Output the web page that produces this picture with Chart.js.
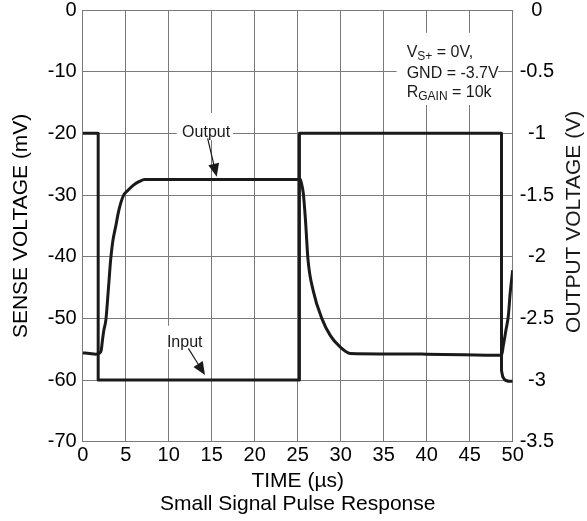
<!DOCTYPE html>
<html>
<head>
<meta charset="utf-8">
<script src="https://cdn.jsdelivr.net/npm/chart.js@4.4.1/dist/chart.umd.min.js"></script>
<style>
    html, body { margin: 0; padding: 0; background: #fff; }
    #wrap { width: 587px; height: 521px; }
</style>
</head>
<body>
<div id="wrap"><canvas id="pulseChart"></canvas></div>
<script>
// Input step, sense voltage in mV (left axis)
const inputTime = [0, 1.8, 1.8, 25.2, 25.2, 48.7, 48.7, 48.85, 49.1, 49.5, 50];
const inputMv = [-20, -20, -60, -60, -20, -20, -58.5, -59.5, -60, -60.2, -60.2];

// Amplifier output in V (right axis)
const outputTime = [0, 0.8, 1.5, 1.9, 2.15, 2.3, 2.45, 2.7, 3.0, 3.25, 3.5, 3.85, 4.2, 4.7, 5.3, 5.9, 6.6, 7.2, 15, 25.3,
    25.45, 25.65, 25.9, 26.2, 26.8, 27.8, 28.8, 29.9, 31.1, 40, 48.7, 48.9, 49.2, 49.5, 49.7, 50];
const outputV = [-2.78, -2.785, -2.79, -2.785, -2.76, -2.675, -2.6, -2.51, -2.25, -2.025, -1.875, -1.75, -1.625, -1.51, -1.46, -1.42, -1.39, -1.375, -1.375, -1.375,
    -1.41, -1.485, -1.7, -2.025, -2.275, -2.5, -2.64, -2.73, -2.785, -2.79, -2.8, -2.725, -2.6, -2.475, -2.3, -2.11];

const timeTicks = ['0', '5', '10', '15', '20', '25', '30', '35', '40', '45', '50'];
const senseTicks = ['-70', '-60', '-50', '-40', '-30', '-20', '-10', '0'];
const outputTicks = ['-3.5', '-3', '-2.5', '-2', '-1.5', '-1', '-0.5', '0'];

const FONT = "'Liberation Sans', Arial, sans-serif";
const GRID = '#7a7a7a';
const INK = '#1a1a1a';

const toPoints = (xs, ys) => xs.map((x, i) => ({ x, y: ys[i] }));

function arrow(ctx, x1, y1, x2, y2) {
    const ang = Math.atan2(y2 - y1, x2 - x1);
    const len = 13, half = 5.5;
    const bx = x2 - len * Math.cos(ang), by = y2 - len * Math.sin(ang);
    ctx.beginPath();
    ctx.moveTo(x1, y1);
    ctx.lineTo(bx, by);
    ctx.stroke();
    ctx.beginPath();
    ctx.moveTo(x2, y2);
    ctx.lineTo(bx + half * Math.sin(ang), by - half * Math.cos(ang));
    ctx.lineTo(bx - half * Math.sin(ang), by + half * Math.cos(ang));
    ctx.closePath();
    ctx.fill();
}

// draws label boxes, arrows, test conditions and the right axis title
const annotations = {
    id: 'annotations',
    beforeDatasetsDraw(chart) {
        const { ctx, chartArea, scales: { x, y } } = chart;
        const px = v => x.getPixelForValue(v);
        const py = v => y.getPixelForValue(v);
        const box = (x1, y1, x2, y2) => ctx.fillRect(px(x1), py(y1), px(x2) - px(x1), py(y2) - py(y1));

        ctx.save();
        ctx.fillStyle = '#fff';
        box(10.93, -16.7, 17.48, -21.1);
        box(9.45, -51.2, 14.1, -55.0);
        box(36.5, -3.7, 48.3, -15.4);

        ctx.fillStyle = INK;
        ctx.strokeStyle = INK;
        ctx.lineWidth = 1.2;
        ctx.font = '16px ' + FONT;
        ctx.textAlign = 'center';
        ctx.textBaseline = 'alphabetic';
        ctx.fillText('Output', px(14.35), py(-20.6));
        ctx.fillText('Input', px(11.86), py(-54.65));
        arrow(ctx, px(14.53), py(-20.8), px(15.58), py(-27.03));
        arrow(ctx, px(12.28), py(-54.86), px(14.22), py(-59.19));

        // test conditions
        ctx.textAlign = 'left';
        let cx = px(37.67);
        const sub = (main, s, rest, base) => {
            let xx = cx;
            ctx.font = '16px ' + FONT;
            ctx.fillText(main, xx, base);
            xx += ctx.measureText(main).width;
            ctx.font = '12px ' + FONT;
            ctx.fillText(s, xx, base + 3.5);
            xx += ctx.measureText(s).width;
            ctx.font = '16px ' + FONT;
            ctx.fillText(rest, xx, base);
        };
        sub('V', 'S+', ' = 0V,', py(-7.62));
        ctx.font = '16px ' + FONT;
        ctx.fillText('GND = -3.7V', cx, py(-11.08));
        sub('R', 'GAIN', ' = 10k', py(-14.06));

        // right axis title, reading bottom to top
        ctx.font = '21px ' + FONT;
        ctx.textAlign = 'center';
        ctx.textBaseline = 'middle';
        ctx.translate(chart.width - 13, (chartArea.top + chartArea.bottom) / 2 - 4);
        ctx.rotate(-Math.PI / 2);
        ctx.fillText('OUTPUT VOLTAGE (V)', 0, 0);
        ctx.restore();
    }
};

const ctx = document.getElementById('pulseChart').getContext('2d');

new Chart(ctx, {
    type: 'scatter',
    data: {
        datasets: [
            {
                label: 'Input',
                data: toPoints(inputTime, inputMv),
                yAxisID: 'y',
                showLine: true,
                borderColor: INK,
                borderWidth: 3,
                borderJoinStyle: 'round',
                pointRadius: 0,
                tension: 0,
                fill: false,
            },
            {
                label: 'Output',
                data: toPoints(outputTime, outputV),
                yAxisID: 'y1',
                showLine: true,
                borderColor: INK,
                borderWidth: 3,
                borderJoinStyle: 'round',
                pointRadius: 0,
                cubicInterpolationMode: 'monotone',
                fill: false,
            }
        ]
    },
    options: {
        responsive: true,
        maintainAspectRatio: false,
        animation: false,
        layout: { padding: { top: 10, left: 0, right: 0, bottom: 0 } },
        plugins: {
            legend: { display: false },
            tooltip: { enabled: false },
        },
        scales: {
            x: {
                type: 'linear',
                min: 0,
                max: 50,
                ticks: {
                    stepSize: 5,
                    color: '#000',
                    padding: 2,
                    maxRotation: 0,
                    font: { family: FONT, size: 20 },
                    callback: (v, i) => timeTicks[i],
                },
                grid: { color: GRID, lineWidth: 1, drawTicks: false },
                border: { color: GRID, width: 1 },
                title: {
                    display: true,
                    text: ['TIME (µs)', 'Small Signal Pulse Response'],
                    color: '#000',
                    font: { family: FONT, size: 21, lineHeight: 1.1 },
                    padding: { top: 0, bottom: 5 },
                },
                afterFit: s => { s.height = 79.3; },
            },
            y: {
                position: 'left',
                min: -70,
                max: 0,
                ticks: {
                    stepSize: 10,
                    color: '#000',
                    padding: 6,
                    font: { family: FONT, size: 20 },
                    callback: (v, i) => senseTicks[i],
                },
                grid: { color: GRID, lineWidth: 1, drawTicks: false },
                border: { color: GRID, width: 1 },
                title: {
                    display: true,
                    text: 'SENSE VOLTAGE (mV)',
                    color: '#000',
                    font: { family: FONT, size: 21 },
                    padding: { top: 9, bottom: 0 },
                },
                afterFit: s => { s.width = 82.7; s.paddingTop = 0; s.paddingBottom = 0; },
            },
            y1: {
                position: 'right',
                min: -3.5,
                max: 0,
                ticks: {
                    stepSize: 0.5,
                    color: '#000',
                    padding: 7,
                    crossAlign: 'center',
                    font: { family: FONT, size: 20 },
                    callback: (v, i) => outputTicks[i],
                },
                grid: { drawOnChartArea: false, drawTicks: false },
                border: { color: GRID, width: 1 },
                afterFit: s => { s.width = 74.3; s.paddingTop = 0; s.paddingBottom = 0; },
            }
        }
    },
    plugins: [annotations]
});
</script>
</body>
</html>
